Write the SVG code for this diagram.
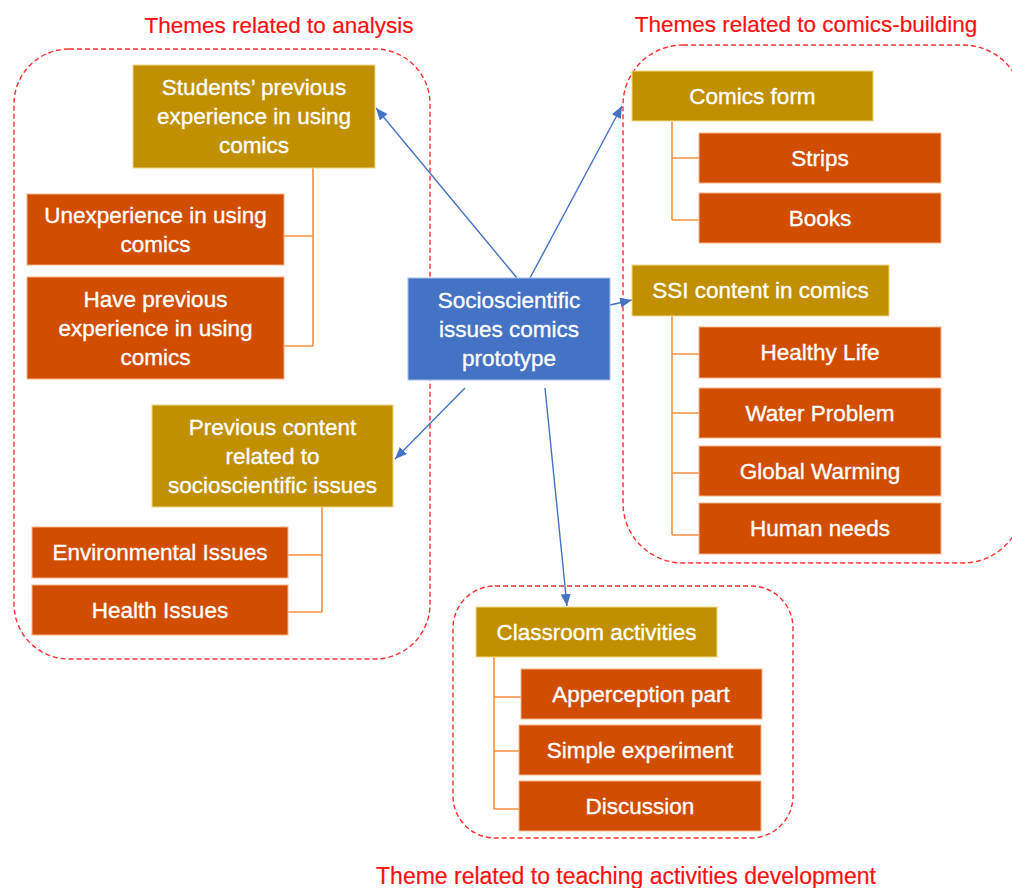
<svg xmlns="http://www.w3.org/2000/svg" width="1012" height="888" viewBox="0 0 1012 888">
<style>
  text { font-family: "Liberation Sans", Arial, sans-serif; font-size: 22.5px; text-anchor: middle; }
  .t { fill: #ffffff; stroke: #ffffff; stroke-width: 0.35; }
  .title { fill: #FF1010; stroke: #FF1010; stroke-width: 0.2; }
  .gold { fill: #C09000; stroke: #F2D98A; stroke-width: 1; }
  .orange { fill: #D14D00; stroke: #F6B58A; stroke-width: 1; }
  .blue { fill: #4472C4; stroke: #A9C0EA; stroke-width: 1; }
  .group { fill: none; stroke: #FF3030; stroke-width: 1.4; stroke-dasharray: 5 3; }
  .tree { fill: none; stroke: #F5903E; stroke-width: 1.6; }
  .arrow { fill: none; stroke: #4472C4; stroke-width: 1.4; marker-end: url(#ah); }
</style>
<defs>
  <marker id="ah" viewBox="0 0 12 10" refX="12" refY="5" markerWidth="12" markerHeight="10" markerUnits="userSpaceOnUse" orient="auto">
    <path d="M0,0 L12,5 L0,10 z" fill="#4472C4"/>
  </marker>
</defs>
<rect width="1012" height="888" fill="#ffffff"/>

<g id="group-analysis">
  <rect class="group" x="14" y="49" width="416" height="610" rx="55" ry="55"/>
  <text class="title" x="279" y="33">Themes related to analysis</text>
</g>
<g id="group-comics-building">
  <rect class="group" x="623" y="45" width="400" height="518" rx="60" ry="60"/>
  <text class="title" x="806" y="32">Themes related to comics-building</text>
</g>
<g id="group-teaching">
  <rect class="group" x="453" y="586" width="340" height="252" rx="42" ry="42"/>
  <text class="title" x="626" y="884" style="font-size:23px">Theme related to teaching activities development</text>
</g>

<g id="tree-connectors">
  <path class="tree" d="M313,168 V346 M284,236 H313 M284,346 H313"/>
  <path class="tree" d="M322,507 V612 M288,555 H322 M288,612 H322"/>
  <path class="tree" d="M672,121 V220 M672,158 H699 M672,220 H699"/>
  <path class="tree" d="M672,316 V535 M672,354 H699 M672,413 H699 M672,473 H699 M672,535 H699"/>
  <path class="tree" d="M494,657 V809 M494,697 H521 M494,751 H519 M494,809 H519"/>
</g>

<g id="connectors">
  <line class="arrow" x1="517" y1="278" x2="376" y2="108"/>
  <line class="arrow" x1="530" y1="278" x2="622" y2="106"/>
  <line class="arrow" x1="610" y1="305" x2="632" y2="300"/>
  <line class="arrow" x1="465" y1="388" x2="395" y2="459"/>
  <line class="arrow" x1="545" y1="388" x2="567" y2="606"/>
</g>

<g id="center">
  <rect class="blue" x="408" y="278" width="202" height="102"/>
  <text class="t" x="509" y="307.5">Socioscientific</text>
  <text class="t" x="509" y="336.5">issues comics</text>
  <text class="t" x="509" y="365.5">prototype</text>
</g>

<g id="students-experience">
  <rect class="gold" x="133" y="65" width="242" height="103"/>
  <text class="t" x="254" y="95">Students’ previous</text>
  <text class="t" x="254" y="124">experience in using</text>
  <text class="t" x="254" y="153">comics</text>
</g>
<g id="unexperience">
  <rect class="orange" x="27" y="194" width="257" height="71"/>
  <text class="t" x="155.5" y="222.5">Unexperience in using</text>
  <text class="t" x="155.5" y="251.5">comics</text>
</g>
<g id="have-experience">
  <rect class="orange" x="27" y="277" width="257" height="102"/>
  <text class="t" x="155.5" y="306.5">Have previous</text>
  <text class="t" x="155.5" y="335.5">experience in using</text>
  <text class="t" x="155.5" y="364.5">comics</text>
</g>
<g id="previous-content">
  <rect class="gold" x="152" y="405" width="241" height="102"/>
  <text class="t" x="272.5" y="434.5">Previous content</text>
  <text class="t" x="272.5" y="463.5">related to</text>
  <text class="t" x="272.5" y="492.5">socioscientific issues</text>
</g>
<g id="environmental-issues">
  <rect class="orange" x="32" y="527" width="256" height="51"/>
  <text class="t" x="160" y="560">Environmental Issues</text>
</g>
<g id="health-issues">
  <rect class="orange" x="32" y="585" width="256" height="50"/>
  <text class="t" x="160" y="617.5">Health Issues</text>
</g>

<g id="comics-form">
  <rect class="gold" x="632" y="71" width="241" height="50"/>
  <text class="t" x="752.5" y="103.5">Comics form</text>
</g>
<g id="strips">
  <rect class="orange" x="699" y="133" width="242" height="50"/>
  <text class="t" x="820" y="165.5">Strips</text>
</g>
<g id="books">
  <rect class="orange" x="699" y="193" width="242" height="50"/>
  <text class="t" x="820" y="225.5">Books</text>
</g>
<g id="ssi-content">
  <rect class="gold" x="632" y="265" width="257" height="51"/>
  <text class="t" x="760.5" y="298">SSI content in comics</text>
</g>
<g id="healthy-life">
  <rect class="orange" x="699" y="327" width="242" height="51"/>
  <text class="t" x="820" y="360">Healthy Life</text>
</g>
<g id="water-problem">
  <rect class="orange" x="699" y="388" width="242" height="50"/>
  <text class="t" x="820" y="420.5">Water Problem</text>
</g>
<g id="global-warming">
  <rect class="orange" x="699" y="446" width="242" height="50"/>
  <text class="t" x="820" y="478.5">Global Warming</text>
</g>
<g id="human-needs">
  <rect class="orange" x="699" y="503" width="242" height="51"/>
  <text class="t" x="820" y="536">Human needs</text>
</g>

<g id="classroom-activities">
  <rect class="gold" x="476" y="607" width="241" height="50"/>
  <text class="t" x="596.5" y="639.5">Classroom activities</text>
</g>
<g id="apperception">
  <rect class="orange" x="521" y="669" width="241" height="50"/>
  <text class="t" x="641" y="701.5">Apperception part</text>
</g>
<g id="simple-experiment">
  <rect class="orange" x="519" y="725" width="242" height="50"/>
  <text class="t" x="640" y="757.5">Simple experiment</text>
</g>
<g id="discussion">
  <rect class="orange" x="519" y="781" width="242" height="50"/>
  <text class="t" x="640" y="813.5">Discussion</text>
</g>
</svg>
